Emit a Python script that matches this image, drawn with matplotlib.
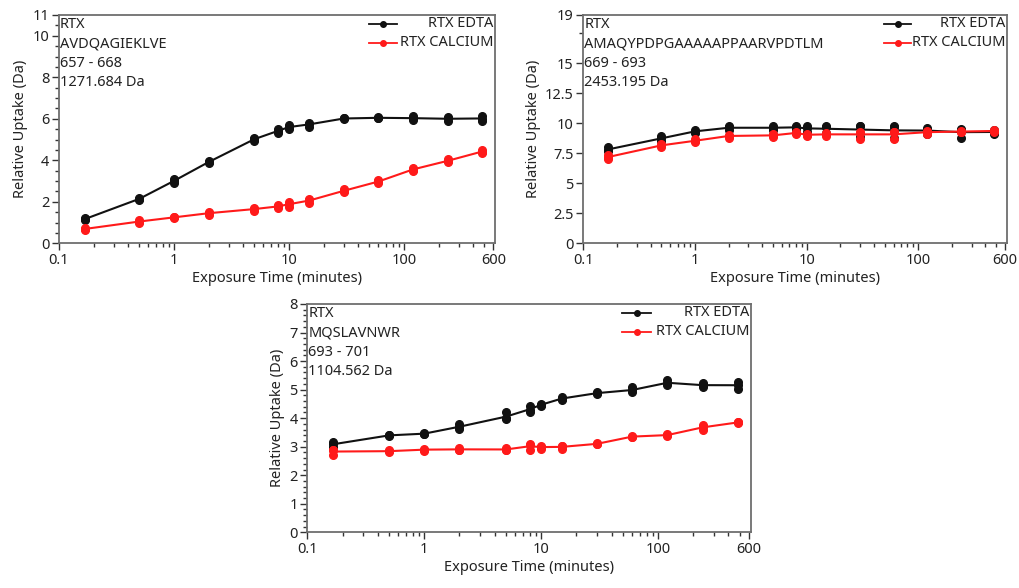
import numpy as np
import matplotlib
matplotlib.use("Agg")
import matplotlib.pyplot as plt
from matplotlib.ticker import FixedLocator, NullFormatter, MultipleLocator

plt.rcParams['font.family'] = ['Noto Sans', 'DejaVu Sans']

# exposure times (minutes)
times = [0.167, 0.5, 1, 2, 5, 8, 10, 15, 30, 60, 120, 240, 480]

# peptide 657-668, replicates per time point
p1_edta = [[1.12, 1.17, 1.20], [2.10, 2.15, 2.18], [2.92, 3.00, 3.10], [3.85, 3.92, 3.97],
           [4.95, 5.02, 5.08], [5.30, 5.42, 5.52], [5.50, 5.60, 5.70], [5.62, 5.75, 5.82],
           [5.98, 6.02, 6.04], [6.02, 6.05, 6.07], [5.92, 6.05, 6.12], [5.88, 6.02, 6.10],
           [5.90, 6.00, 6.15]]
p1_calcium = [[0.62, 0.70, 0.75], [1.00, 1.05, 1.10], [1.22, 1.25, 1.28], [1.38, 1.45, 1.52],
              [1.58, 1.65, 1.72], [1.70, 1.78, 1.85], [1.75, 1.90, 2.00], [1.95, 2.08, 2.15],
              [2.45, 2.52, 2.62], [2.90, 2.98, 3.05], [3.48, 3.55, 3.65], [3.90, 3.97, 4.05],
              [4.35, 4.42, 4.50]]

# peptide 669-693
p2_edta = [[7.65, 7.80, 8.00], [8.55, 8.75, 8.90], [9.20, 9.30, 9.45], [9.40, 9.65, 9.80],
           [9.45, 9.60, 9.80], [9.50, 9.65, 9.80], [9.30, 9.60, 9.80], [9.15, 9.65, 9.80],
           [8.85, 9.75, 9.80], [8.80, 9.65, 9.75], [9.10, 9.45, 9.60], [8.80, 9.40, 9.55],
           [9.10, 9.25, 9.45]]
p2_calcium = [[7.00, 7.20, 7.35], [8.00, 8.15, 8.30], [8.40, 8.55, 8.65], [8.80, 8.95, 9.05],
              [8.85, 9.00, 9.10], [9.10, 9.20, 9.25], [8.95, 9.05, 9.10], [8.95, 9.10, 9.15],
              [8.70, 9.20, 9.30], [8.65, 9.25, 9.30], [9.10, 9.30, 9.35], [9.25, 9.30, 9.35],
              [9.30, 9.35, 9.40]]

# peptide 693-701
p3_edta = [[3.00, 3.08, 3.18], [3.37, 3.40, 3.42], [3.43, 3.46, 3.48], [3.62, 3.68, 3.80],
           [3.96, 4.00, 4.20], [4.23, 4.28, 4.43], [4.44, 4.47, 4.50], [4.63, 4.68, 4.75],
           [4.85, 4.88, 4.90], [4.90, 4.98, 5.08], [5.17, 5.23, 5.32], [5.10, 5.15, 5.22],
           [5.03, 5.15, 5.28]]
p3_calcium = [[2.72, 2.87, 2.90], [2.80, 2.85, 2.88], [2.86, 2.90, 2.93], [2.87, 2.90, 2.95],
              [2.87, 2.90, 2.94], [2.90, 3.05, 3.10], [2.93, 3.00, 3.03], [2.92, 3.02, 3.04],
              [3.08, 3.10, 3.12], [3.33, 3.35, 3.38], [3.38, 3.40, 3.44], [3.60, 3.68, 3.75],
              [3.83, 3.85, 3.87]]

info1 = "RTX\nAVDQAGIEKLVE\n657 - 668\n1271.684 Da"
info2 = "RTX\nAMAQYPDPGAAAAAPPAARVPDTLM\n669 - 693\n2453.195 Da"
info3 = "RTX\nMQSLAVNWR\n693 - 701\n1104.562 Da"

x_ticks = [0.1, 1, 10, 100, 600]
x_ticklabels = ["0.1", "1", "10", "100", "600"]

BLACK = "#111111"
RED = "#ff1a1a"
FRAME = "#6e6e6e"
FS = 10.5


def panel(ax, edta, calcium, info, ymax, yticks, yminor):
    for reps, col in [(edta, BLACK), (calcium, RED)]:
        reps = np.array(reps)
        ax.plot(times, reps.mean(axis=1), color=col, lw=1.5, zorder=2)
        for j in range(reps.shape[1]):
            ax.plot(times, reps[:, j], 'o', color=col, ms=5.5, mec=col, zorder=3)

    ax.set_xscale("log")
    ax.set_xlim(0.1, 620)
    ax.set_ylim(0, ymax)
    ax.xaxis.set_major_locator(FixedLocator(x_ticks))
    ax.set_xticklabels(x_ticklabels)
    minors = [m * d for d in [0.1, 1, 10] for m in range(2, 10)] + [200, 300, 400, 500]
    ax.xaxis.set_minor_locator(FixedLocator(minors))
    ax.xaxis.set_minor_formatter(NullFormatter())
    ax.set_yticks(yticks)
    ax.set_yticklabels(["%g" % t for t in yticks])
    if yminor:
        ax.yaxis.set_minor_locator(MultipleLocator(yminor))
    ax.tick_params(which="major", length=5, width=1, color="#333333", labelsize=FS,
                   labelcolor="#222222", pad=2)
    ax.tick_params(which="minor", length=3, width=1, color="#333333")
    for s in ax.spines.values():
        s.set_color(FRAME)
        s.set_linewidth(1.3)
    ax.set_xlabel("Exposure Time (minutes)", fontsize=FS, color="#222222", labelpad=2)
    ax.set_ylabel("Relative Uptake (Da)", fontsize=FS, color="#222222", labelpad=3)

    ax.text(0.002, 0.99, info, transform=ax.transAxes, ha="left", va="top",
            fontsize=FS, color="#222222", linespacing=1.4)

    # legend drawn as in the instrument software (labels right aligned)
    for yy, col, lab in [(0.962, BLACK, "RTX EDTA"), (0.878, RED, "RTX CALCIUM")]:
        ax.plot([0.71, 0.775], [yy, yy], color=col, lw=1.3, transform=ax.transAxes,
                clip_on=False)
        ax.plot([0.7425], [yy], 'o', color=col, ms=4, transform=ax.transAxes, clip_on=False)
        ax.text(0.997, yy, lab, transform=ax.transAxes, ha="right", va="center",
                fontsize=FS, color="#222222")


fig = plt.figure(figsize=(10.2, 5.88), dpi=100)
ax1 = fig.add_axes([0.0578, 0.5862, 0.4275, 0.3883])
ax2 = fig.add_axes([0.5719, 0.5862, 0.4151, 0.3883])
ax3 = fig.add_axes([0.3013, 0.0947, 0.4347, 0.3883])

panel(ax1, p1_edta, p1_calcium, info1, 11, [0, 2, 4, 6, 8, 10, 11], 0.5)
panel(ax2, p2_edta, p2_calcium, info2, 19, [0, 2.5, 5, 7.5, 10, 12.5, 15, 19], None)
ax2.yaxis.set_minor_locator(FixedLocator([17.5]))
panel(ax3, p3_edta, p3_calcium, info3, 8, [0, 1, 2, 3, 4, 5, 6, 7, 8], 0.2)

fig.savefig("out.png", dpi=100)
